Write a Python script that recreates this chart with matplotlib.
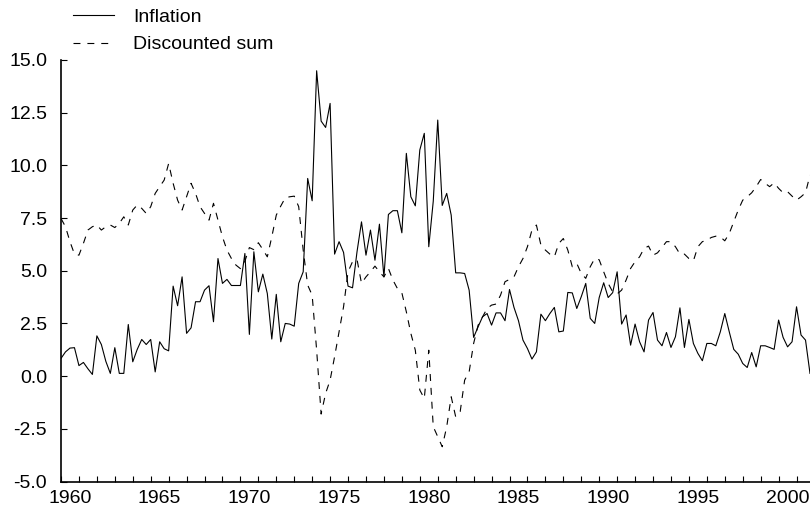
import numpy as np
import matplotlib
matplotlib.use("Agg")
import matplotlib.pyplot as plt

plt.rcParams['font.family'] = ['Liberation Sans', 'DejaVu Sans']
plt.rcParams['lines.scale_dashes'] = False

start_year = 1960
periods_per_year = 4

inflation = [
    0.84, 1.15, 1.33, 1.35, 0.5, 0.65, 0.35, 0.08,
    1.91, 1.5, 0.7, 0.13, 1.35, 0.13, 0.13, 2.45,
    0.68, 1.27, 1.74, 1.5, 1.74, 0.2, 1.63, 1.3,
    1.2, 4.27, 3.34, 4.71, 2.03, 2.29, 3.53, 3.53,
    4.08, 4.29, 2.58, 5.58, 4.4, 4.59, 4.3, 4.3,
    4.3, 5.82, 1.98, 5.9,
    4.0, 4.84, 3.92, 1.76, 3.88, 1.63, 2.5, 2.47, 2.37, 4.4,
    4.95, 9.38, 8.32, 14.49, 12.1, 11.8, 12.94, 5.79, 6.38, 5.87,
    4.27, 4.19, 5.9, 7.32, 5.74, 6.93, 5.5, 7.21, 4.71, 7.67,
    7.85, 7.85, 6.8, 10.57, 8.51, 8.08, 10.73, 11.52, 6.14, 8.3, 12.15,
    8.1, 8.67, 7.64, 4.9, 4.9, 4.87, 4.08, 1.84, 2.34, 2.82,
    2.97, 2.42, 3.0, 3.0, 2.63, 4.11, 3.26, 2.63, 1.71, 1.31,
    0.81, 1.15, 2.94, 2.63, 2.97, 3.26, 2.1, 2.14, 3.97, 3.95,
    3.21, 3.77, 4.4, 2.74, 2.5, 3.73, 4.43, 3.73, 3.96, 4.95,
    2.47, 2.9, 1.47, 2.47, 1.63, 1.15, 2.66, 3.02, 1.71, 1.44,
    2.07, 1.36, 1.87, 3.24, 1.36, 2.69, 1.55, 1.08, 0.73, 1.55,
    1.55, 1.44, 2.1, 2.97, 2.1, 1.27, 1.04, 0.6, 0.41, 1.12,
    0.44, 1.44, 1.44, 1.36, 1.27, 2.66, 1.84, 1.39, 1.63, 3.29,
    1.95, 1.71, 0.13,
]

discounted_sum = [
    7.48, 7.09, 6.38, 5.79, 5.74, 6.3, 6.93, 7.09, 7.17, 6.93,
    7.09, 7.17, 7.05, 7.25, 7.56, 7.17, 7.88, 8.12, 7.96, 7.72,
    8.04, 8.67, 8.99, 9.3, 10.09, 9.15, 8.35, 7.88, 8.51, 9.15,
    8.67, 8.04, 7.72, 7.4, 8.2, 7.4, 6.61, 5.98, 5.58, 5.27,
    5.1, 5.45, 6.1, 6.0,
    6.33, 6.01, 5.66, 6.61, 7.64, 8.07, 8.46, 8.51, 8.54, 8.04,
    5.98, 4.32, 3.84, 1.23, -1.8, -0.82, -0.19, 0.92, 2.1, 3.29,
    4.95, 5.43, 5.54, 4.4, 4.71, 4.95, 5.22, 4.95, 4.71, 5.11,
    4.56, 4.16, 3.95, 3.05, 2.03, 1.23, -0.66, -1.06, 1.23, -2.4, -2.88,
    -3.35, -2.4, -0.98, -1.93, -1.69, -0.19, 0.2, 1.55, 2.42, 2.82,
    3.21, 3.37, 3.42, 3.84, 4.48, 4.59, 4.71, 5.19, 5.58, 6.14,
    6.93, 7.17, 6.22, 5.98, 5.79, 5.66, 6.3, 6.53, 5.98, 5.19,
    5.35, 4.87, 4.64, 5.19, 5.58, 5.52, 4.95, 4.4, 4.0, 3.9,
    4.08, 4.56, 5.11, 5.43, 5.66, 6.06, 6.17, 5.74, 5.85, 6.11,
    6.38, 6.38, 6.14, 5.79, 5.79, 5.58, 5.47, 6.14, 6.38, 6.45,
    6.58, 6.64, 6.61, 6.42, 6.77, 7.32, 7.88, 8.35, 8.51, 8.7,
    8.99, 9.33, 9.15, 8.99, 9.17, 8.91, 8.7, 8.75, 8.54, 8.35,
    8.51, 8.7, 9.54,
]

year_labels = [1960, 1965, 1970, 1975, 1980, 1985, 1990, 1995, 2000]
y_ticks = [-5.0, -2.5, 0.0, 2.5, 5.0, 7.5, 10.0, 12.5, 15.0]

n = len(inflation)
dates = start_year + np.arange(n) / periods_per_year

W, H = 810, 511
fig = plt.figure(figsize=(W / 100, H / 100), dpi=100)
left, right = 61 / W, 1.0
bottom, top = (H - 481.5) / H, (H - 60) / H
ax = fig.add_axes([left, bottom, right - left, top - bottom])

ax.plot(dates, inflation, color='black', lw=0.8, label='Inflation')
ax.plot(dates, discounted_sum, color='black', lw=0.8, dashes=(5, 5),
        label='Discounted sum')

ax.set_xlim(start_year, dates[-1])
ax.set_ylim(-5.0, 15.0)

for s in ['top', 'right']:
    ax.spines[s].set_visible(False)
for s in ['left', 'bottom']:
    ax.spines[s].set_linewidth(1.2)

ax.set_yticks(y_ticks)
ax.set_yticklabels([f"{v:.1f}" for v in y_ticks])
ax.tick_params(axis='y', direction='in', length=4, width=0.8, labelsize=14, pad=10)

ax.set_xticks(np.arange(start_year, 2002), minor=False)
ax.set_xticklabels([])
ax.tick_params(axis='x', which='major', direction='in', length=4, width=0.8)
ax.set_xticks([y + 0.5 for y in year_labels], minor=True)
ax.set_xticklabels([str(y) for y in year_labels], minor=True)
ax.tick_params(axis='x', which='minor', length=0, labelsize=14, pad=6)

leg = ax.legend(loc='upper left', bbox_to_anchor=(73 / W, 1 - 8 / H),
                bbox_transform=fig.transFigure, frameon=False, fontsize=14,
                handlelength=2.1, handletextpad=1.0, borderpad=0,
                borderaxespad=0, labelspacing=0.52)

fig.savefig('out.png', dpi=100)
